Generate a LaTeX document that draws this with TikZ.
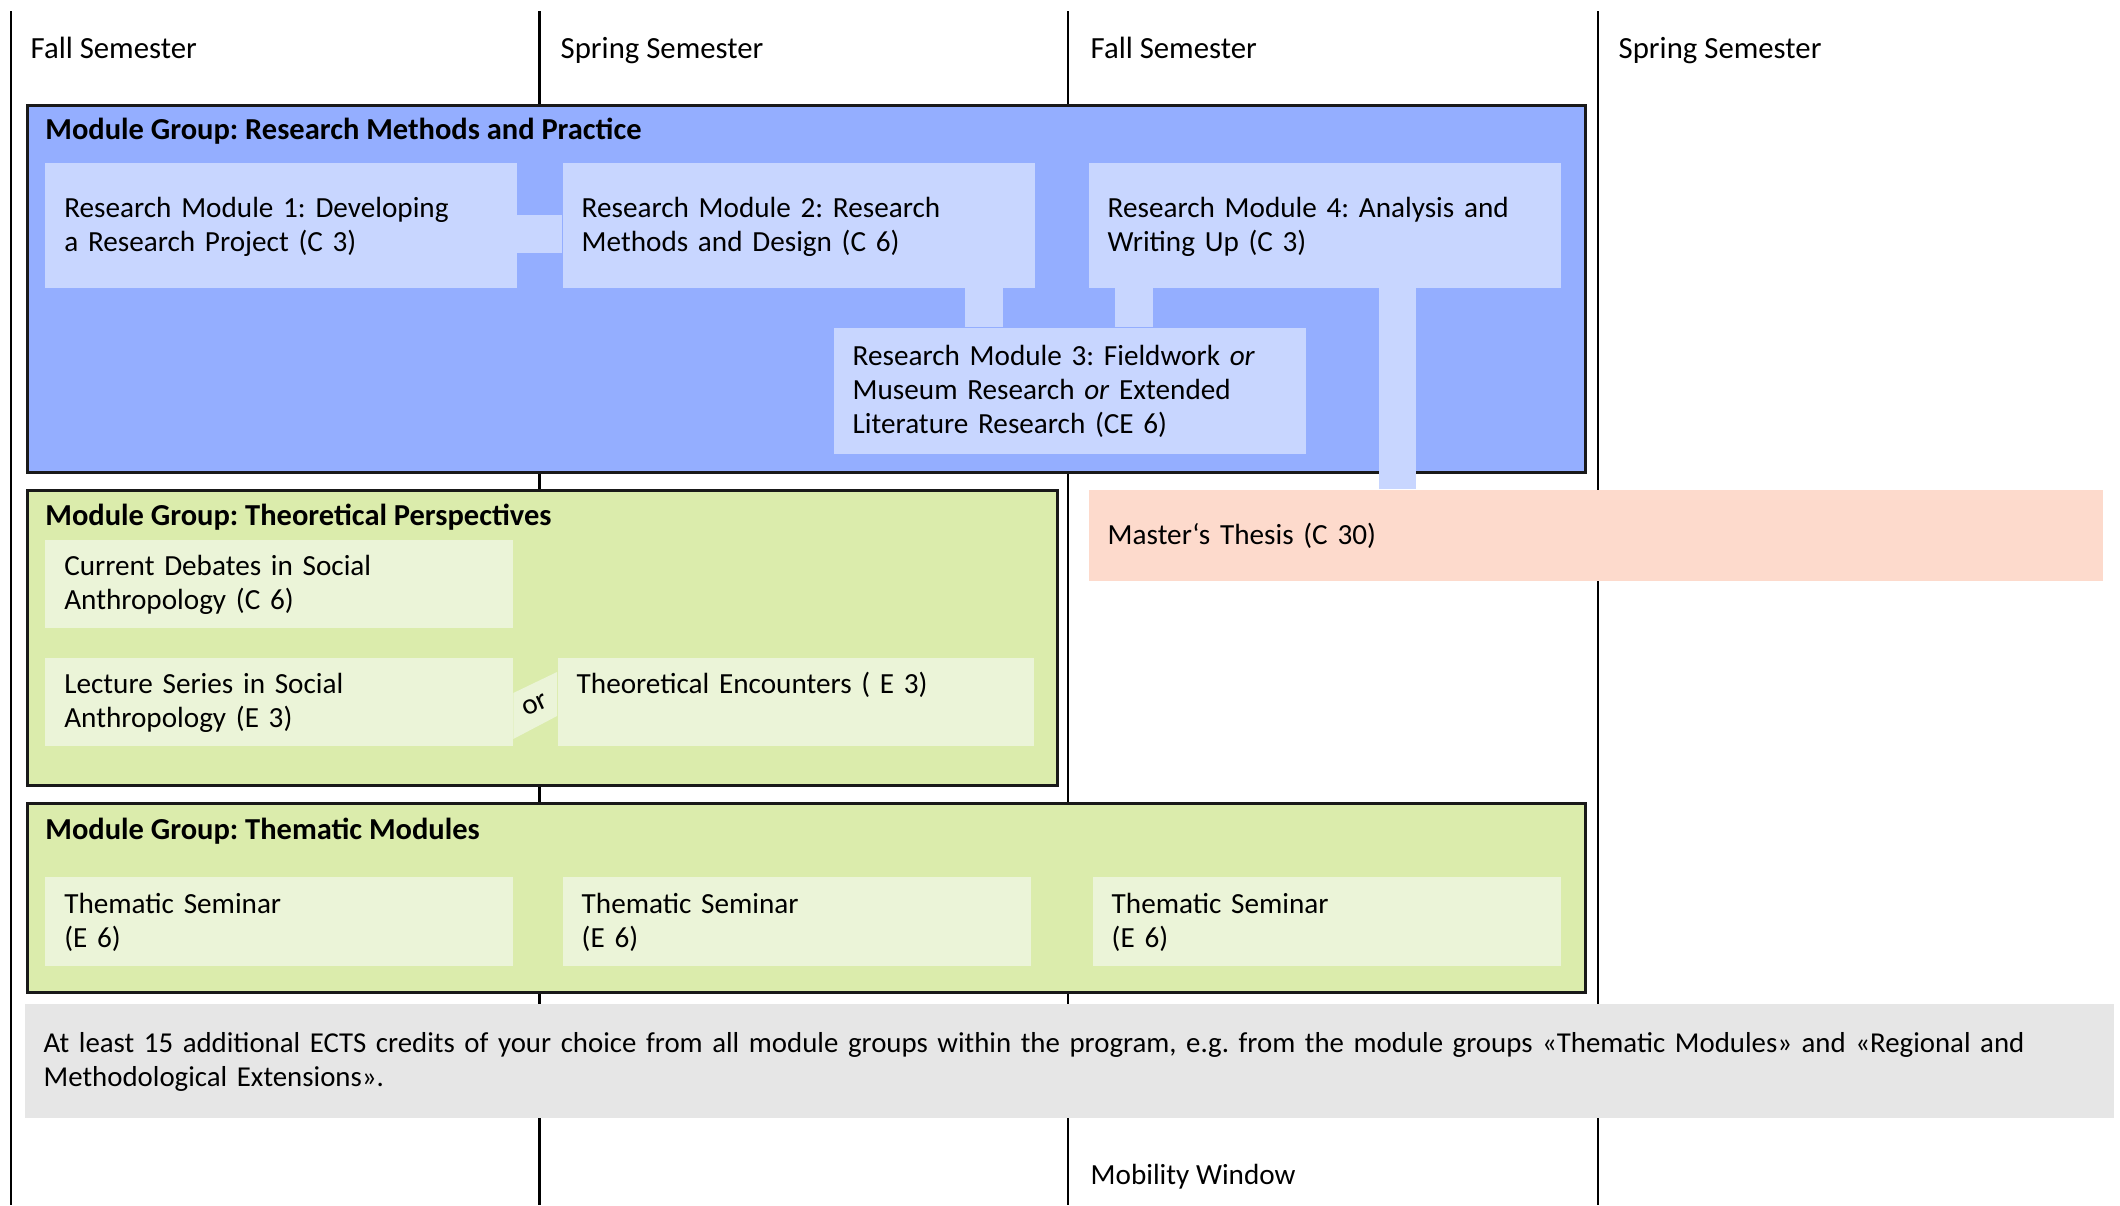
\documentclass[tikz,border=0pt]{standalone}
\usepackage{fontspec}
\setmainfont{Carlito}
\usetikzlibrary{calc,positioning}
\definecolor{rmgroup}{RGB}{148,174,255}
\definecolor{rmlight}{RGB}{200,214,255}
\definecolor{tpgroup}{RGB}{219,236,172}
\definecolor{tplight}{RGB}{235,244,216}
\definecolor{thesiscolor}{RGB}{253,218,204}
\definecolor{extracolor}{RGB}{230,230,230}
\definecolor{framecolor}{RGB}{25,25,25}
\newcommand{\modfont}{\fontsize{8.3pt}{9.68pt}\selectfont}
\newcommand{\semfont}{\fontsize{8.75pt}{10pt}\selectfont}
\newcommand{\titlefont}{\fontsize{8.67pt}{10pt}\selectfont\bfseries}
\frenchspacing
\tikzset{
  semline/.style={line width=0.6pt, black},
  semlabel/.style={anchor=base west, inner sep=0pt, font=\semfont},
  groupbox/.style={draw=framecolor, line width=0.85pt, anchor=north west, inner sep=0pt},
  grouptitle/.style={anchor=base west, inner sep=0pt, font=\titlefont},
  modbox/.style={anchor=north west, inner xsep=0.19cm, inner ysep=0pt, align=left, font=\modfont,
    execute at begin node={\rule{0pt}{7.6pt}}, execute at end node={\rule[-2.6pt]{0pt}{0pt}}},
}

\begin{document}
\begin{tikzpicture}[x=0.01cm, y=-0.01cm]
    \useasboundingbox (0,0) rectangle (2120,1205);

    % Semester columns
    \foreach \x in {10.8, 539.5, 1068, 1598}
        \draw[semline] (\x,11) -- (\x,1205);
    \node[semlabel] (sem1) at (30,58.3) {Fall Semester};
    \node[semlabel] (sem2) at (560,58.3) {Spring Semester};
    \node[semlabel] (sem3) at (1090,58.3) {Fall Semester};
    \node[semlabel] (sem4) at (1618,58.3) {Spring Semester};

    % Module groups
    \node[groupbox, fill=rmgroup, minimum width=15.57cm, minimum height=3.665cm] (rgroup) at (25.7,104) {};
    \node[groupbox, fill=tpgroup, minimum width=10.30cm, minimum height=2.95cm] (tgroup) at (25.7,489) {};
    \node[groupbox, fill=tpgroup, minimum width=15.57cm, minimum height=1.89cm] (mgroup) at (25.7,802) {};
    \node[grouptitle] (rtitle) at ($(rgroup.north west)+(19,35)$) {Module Group: Research Methods and Practice};
    \node[grouptitle] (ttitle) at ($(tgroup.north west)+(19,36.5)$) {Module Group: Theoretical Perspectives};
    \node[grouptitle] (mtitle) at ($(mgroup.north west)+(19,37)$) {Module Group: Thematic Modules};

    % Research modules
    \node[modbox, fill=rmlight, minimum width=4.71cm, text width=4.33cm, minimum height=1.25cm] (rm1) at (44.6,162)
        {Research Module 1: Developing\\a Research Project (C 3)};
    \node[modbox, fill=rmlight, minimum width=4.72cm, text width=4.34cm, minimum height=1.25cm] (rm2) at (562,162)
        {Research Module 2: Research\\Methods and Design (C 6)};
    \node[modbox, fill=rmlight, minimum width=4.72cm, text width=4.34cm, minimum height=1.25cm] (rm4) at (1088,162)
        {Research Module 4: Analysis and\\Writing Up (C 3)};
    \node[modbox, fill=rmlight, minimum width=4.72cm, text width=4.34cm, minimum height=1.26cm] (rm3) at (833,327)
        {Research Module 3: Fieldwork \textit{or}\\Museum Research \textit{or} Extended\\Literature Research (CE 6)};
    \node[modbox, fill=thesiscolor, minimum width=10.14cm, text width=9.76cm, minimum height=0.91cm] (thesis) at (1088,489)
        {Master‘s Thesis (C 30)};

    % Theoretical perspectives
    \node[modbox, fill=tplight, minimum width=4.67cm, text width=4.29cm, minimum height=0.88cm] (debates) at (44.6,539)
        {Current Debates in Social\\Anthropology (C 6)};
    \node[modbox, fill=tplight, minimum width=4.67cm, text width=4.29cm, minimum height=0.88cm] (lecture) at (44.6,657)
        {Lecture Series in Social\\Anthropology (E 3)};
    \node[modbox, fill=tplight, minimum width=4.76cm, text width=4.38cm, minimum height=0.88cm] (encounter) at (557,657)
        {Theoretical Encounters ( E 3)\\\mbox{}};

    % Thematic modules
    \foreach \x/\w [count=\i] in {44.6/4.67, 562/4.68, 1092/4.68}
        \node[modbox, fill=tplight, minimum width=\w cm, text width=\w cm-0.38cm, minimum height=0.89cm] (seminar\i) at (\x,876)
            {Thematic Seminar\\(E 6)};

    % Free choice credits
    \node[modbox, fill=extracolor, minimum width=20.88cm, text width=20.5cm, minimum height=1.14cm,
          font=\fontsize{8.2pt}{9.68pt}\selectfont] (extra) at (24,1003)
        {At least 15 additional ECTS credits of your choice from all module groups within the program, e.g. from the module groups «Thematic Modules» and «Regional and\\Methodological Extensions».};

    \node[semlabel, font=\modfont] (mobility) at (1090,1184) {Mobility Window};

    % Connectors
    \fill[rmlight] ($(rm1.north east)+(0,53)$) rectangle ($(rm2.north west)+(0,91)$);
    \fill[rmlight] ($(rm2.south west)+(403,0)$) rectangle ($(rm3.north west)+(170,0)$);
    \fill[rmlight] ($(rm4.south west)+(27,0)$) rectangle ($(rm3.north west)+(320,0)$);
    \fill[rmlight] ($(rm4.south west)+(291,0)$) rectangle ($(thesis.north west)+(328,0)$);
    \fill[tplight] ($(lecture.north east)+(0,36)$) -- ($(encounter.north west)+(0,15)$)
        -- ($(encounter.north west)+(0,59)$) -- ($(lecture.north east)+(0,82)$) -- cycle;
    \node[font=\modfont, rotate=25, inner sep=0pt] (orlabel) at ($(lecture.north east)!0.5!(encounter.north west)+(0,48)$) {or};
\end{tikzpicture}
\end{document}
